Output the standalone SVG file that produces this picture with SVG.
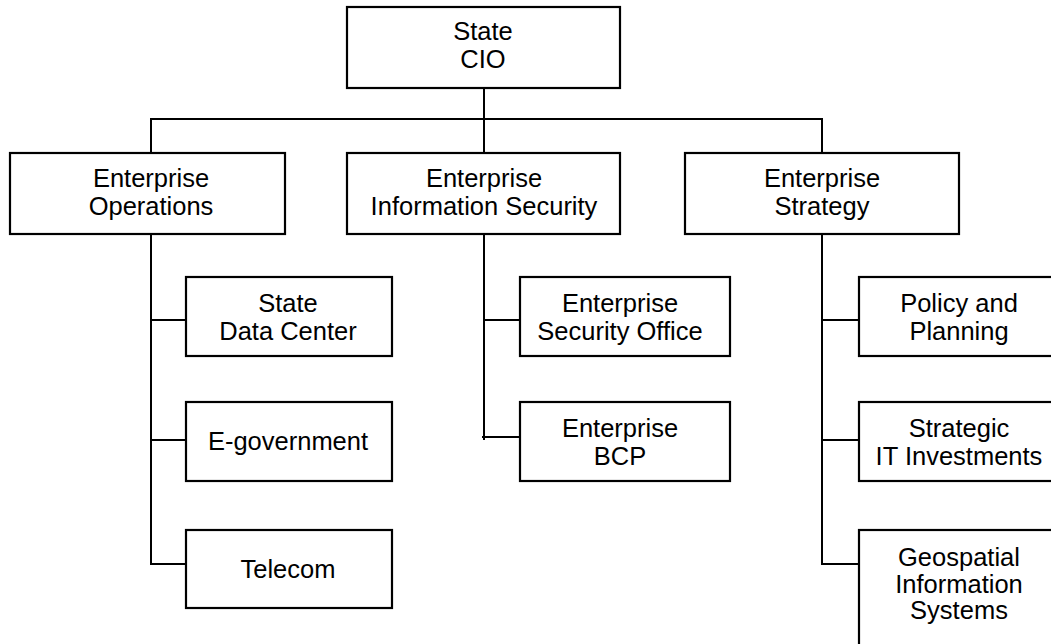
<svg xmlns="http://www.w3.org/2000/svg" width="1051" height="644" viewBox="0 0 1051 644">
  <style>
    .box { fill: #ffffff; stroke: #000000; stroke-width: 2.2; }
    .lbl { font-family: "Liberation Sans", Arial, sans-serif; font-size: 25.5px; fill: #000000; text-anchor: middle; }
    .wire { fill: none; stroke: #000000; stroke-width: 2; }
  </style>
  <rect width="1051" height="644" fill="#ffffff"/>

  <!-- connectors -->
  <g id="connectors">
    <path class="wire" d="M484 88 V153"/>
    <path class="wire" d="M151 119 H823"/>
    <path class="wire" d="M151 118 V153"/>
    <path class="wire" d="M822 118 V153"/>
    <!-- Enterprise Operations branch -->
    <path class="wire" d="M151 234 V564 H186"/>
    <path class="wire" d="M151 320 H186"/>
    <path class="wire" d="M151 440 H186"/>
    <!-- Enterprise Information Security branch -->
    <path class="wire" d="M484 234 V440"/>
    <path class="wire" d="M484 320 H520"/>
    <path class="wire" d="M482 437 H520"/>
    <!-- Enterprise Strategy branch -->
    <path class="wire" d="M822 234 V564 H859"/>
    <path class="wire" d="M822 320 H859"/>
    <path class="wire" d="M822 440 H859"/>
  </g>

  <g id="state-cio">
    <rect class="box" x="347" y="7" width="273" height="81"/>
    <text class="lbl" x="483" y="40">State</text>
    <text class="lbl" x="483" y="68">CIO</text>
  </g>

  <g id="enterprise-operations">
    <rect class="box" x="10" y="153" width="275" height="81"/>
    <text class="lbl" x="151" y="187">Enterprise</text>
    <text class="lbl" x="151" y="215">Operations</text>
  </g>

  <g id="enterprise-information-security">
    <rect class="box" x="347" y="153" width="273" height="81"/>
    <text class="lbl" x="484" y="187">Enterprise</text>
    <text class="lbl" x="484" y="215">Information Security</text>
  </g>

  <g id="enterprise-strategy">
    <rect class="box" x="685" y="153" width="274" height="81"/>
    <text class="lbl" x="822" y="187">Enterprise</text>
    <text class="lbl" x="822" y="215">Strategy</text>
  </g>

  <g id="state-data-center">
    <rect class="box" x="186" y="277" width="206" height="79"/>
    <text class="lbl" x="288" y="312">State</text>
    <text class="lbl" x="288" y="340">Data Center</text>
  </g>

  <g id="e-government">
    <rect class="box" x="186" y="402" width="206" height="79"/>
    <text class="lbl" x="288" y="450">E-government</text>
  </g>

  <g id="telecom">
    <rect class="box" x="186" y="530" width="206" height="78"/>
    <text class="lbl" x="288" y="578">Telecom</text>
  </g>

  <g id="enterprise-security-office">
    <rect class="box" x="520" y="277" width="210" height="79"/>
    <text class="lbl" x="620" y="312">Enterprise</text>
    <text class="lbl" x="620" y="340">Security Office</text>
  </g>

  <g id="enterprise-bcp">
    <rect class="box" x="520" y="402" width="210" height="79"/>
    <text class="lbl" x="620" y="437">Enterprise</text>
    <text class="lbl" x="620" y="465">BCP</text>
  </g>

  <g id="policy-and-planning">
    <rect class="box" x="859" y="277" width="206" height="79"/>
    <text class="lbl" x="959" y="312">Policy and</text>
    <text class="lbl" x="959" y="340">Planning</text>
  </g>

  <g id="strategic-it-investments">
    <rect class="box" x="859" y="402" width="206" height="79"/>
    <text class="lbl" x="959" y="437">Strategic</text>
    <text class="lbl" x="959" y="465">IT Investments</text>
  </g>

  <g id="geospatial-information-systems">
    <rect class="box" x="859" y="530" width="206" height="120"/>
    <text class="lbl" x="959" y="566">Geospatial</text>
    <text class="lbl" x="959" y="593">Information</text>
    <text class="lbl" x="959" y="619">Systems</text>
  </g>
</svg>
